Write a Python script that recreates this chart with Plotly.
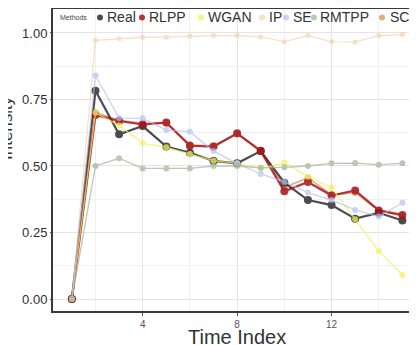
import plotly.graph_objects as go

time_index = list(range(1, 16))
real = [0.0, 0.783, 0.619, 0.650, 0.573, 0.550, 0.519, 0.510, 0.556, 0.437, 0.372, 0.353, 0.302, 0.324, 0.295]
rlpp = [0.0, 0.692, 0.669, 0.656, 0.663, 0.576, 0.573, 0.623, 0.556, 0.405, 0.440, 0.389, 0.408, 0.333, 0.316]
wgan = [0.0, 0.700, 0.652, 0.586, 0.570, 0.545, 0.520, 0.510, 0.490, 0.512, 0.460, 0.418, 0.300, 0.180, 0.090]
ip = [0.0, 0.972, 0.978, 0.984, 0.984, 0.988, 0.990, 0.990, 0.985, 0.967, 0.990, 0.967, 0.966, 0.990, 0.994]
se = [0.0, 0.840, 0.680, 0.679, 0.635, 0.629, 0.556, 0.510, 0.470, 0.440, 0.400, 0.372, 0.335, 0.310, 0.362]
rmtpp = [0.0, 0.500, 0.529, 0.491, 0.491, 0.491, 0.500, 0.500, 0.493, 0.495, 0.500, 0.510, 0.511, 0.505, 0.510]
sc = [0.0, 0.700, 0.672, 0.660, 0.662, 0.580, 0.575, 0.620, 0.560, 0.420, 0.455, 0.392, 0.400, 0.333, 0.312]

methods = ["Real", "RLPP", "WGAN", "IP", "SE", "RMTPP", "SC"]
y_ticks = [0.0, 0.25, 0.5, 0.75, 1.0]
x_ticks = [4, 8, 12]

series = {"Real": real, "RLPP": rlpp, "WGAN": wgan, "IP": ip, "SE": se, "RMTPP": rmtpp, "SC": sc}
colors = {"Real": "#2e2e2e", "RLPP": "#a8141c", "WGAN": "#f2f25a", "IP": "#f6c998",
          "SE": "#b4c0f2", "RMTPP": "#a4b89c", "SC": "#d98a4a"}
styles = {"Real": (2.2, 8, 0.85), "RLPP": (2.2, 8, 0.85), "WGAN": (1.3, 6, 0.75),
          "IP": (1.2, 5, 0.6), "SE": (1.3, 6, 0.7), "RMTPP": (1.3, 6, 0.75), "SC": (1.6, 7, 0.7)}

draw_order = ["SC", "Real", "RLPP", "WGAN", "IP", "SE", "RMTPP"]

fig = go.Figure()
for m in draw_order:
    lw, ms, op = styles[m]
    fig.add_trace(go.Scatter(
        x=time_index, y=series[m], mode="lines+markers", name=m,
        line=dict(color=colors[m], width=lw),
        marker=dict(color=colors[m], size=ms),
        opacity=op, showlegend=False))

# page body has an 8px margin: figure origin sits at screen (8, 8)
OFF = 8
W, H = 417 - OFF, 345 - OFF
SL, SR, ST, SB = 53, 417, 9, 311  # plot area in screen pixels
L, R, T, B = SL - OFF, (417 - OFF) - (SR - OFF), ST - OFF, H - (SB - OFF)
PW, PH = SR - SL, SB - ST


def px(xs):
    return (xs - SL) / PW


def py(ys):
    return (SB - ys) / PH


annotations = []
shapes = []
leg_y = 17.5
annotations.append(dict(x=px(58), y=py(leg_y), xref="paper", yref="paper", text="Methods",
                        showarrow=False, xanchor="left", yanchor="middle",
                        font=dict(size=7, color="#444")))
leg_pos = {"Real": (100, 105), "RLPP": (142, 147), "WGAN": (201, 206), "IP": (262, 267),
           "SE": (286, 291), "RMTPP": (314, 318), "SC": (382, 388)}
for m in methods:
    mx, tx = leg_pos[m]
    shapes.append(dict(type="circle", xref="paper", yref="paper", xsizemode="pixel", ysizemode="pixel",
                       xanchor=px(mx), yanchor=py(leg_y), x0=-3, x1=3, y0=-3, y1=3,
                       fillcolor=colors[m], line=dict(width=0),
                       opacity=styles[m][2]))
    annotations.append(dict(x=px(tx), y=py(leg_y), xref="paper", yref="paper", text=m,
                            showarrow=False, xanchor="left", yanchor="middle",
                            font=dict(size=14, color="#333")))

annotations.append(dict(x=px(237), y=py(337), xref="paper", yref="paper", text="Time Index",
                        showarrow=False, xanchor="center", yanchor="middle",
                        font=dict(size=20, color="#333")))
annotations.append(dict(x=px(6), y=py(128), xref="paper", yref="paper", text="Intensity",
                        showarrow=False, xanchor="center", yanchor="middle", textangle=-90,
                        font=dict(size=17, color="#333")))

fig.update_layout(
    width=W, height=H,
    margin=dict(l=L, r=R, t=T, b=B, pad=0),
    paper_bgcolor="white", plot_bgcolor="white",
    font=dict(family="Liberation Sans, Arial, sans-serif", color="#333"),
    annotations=annotations, shapes=shapes,
    xaxis=dict(range=[0.2, 15.62], tickvals=x_ticks, ticktext=[str(v) for v in x_ticks],
               showgrid=True, gridcolor="#e4e4e4", gridwidth=1,
               minor=dict(dtick=2, tick0=0, showgrid=True, gridcolor="#f1f1f1", gridwidth=1),
               showline=True, linecolor="#3a3a3a", linewidth=2, mirror=True,
               ticks="outside", ticklen=3, tickcolor="#555",
               tickfont=dict(size=10, color="#555"), zeroline=False),
    yaxis=dict(range=[-0.045, 1.090], tickvals=y_ticks, ticktext=["0.00", "0.25", "0.50", "0.75", "1.00"],
               showgrid=True, gridcolor="#e4e4e4", gridwidth=1,
               minor=dict(dtick=0.125, tick0=0, showgrid=True, gridcolor="#f1f1f1", gridwidth=1),
               showline=True, linecolor="#3a3a3a", linewidth=2,
               ticks="outside", ticklen=1, tickcolor="#555",
               tickfont=dict(size=13, color="#2e2e2e"), zeroline=False),
)

fig.write_html("out.html")
